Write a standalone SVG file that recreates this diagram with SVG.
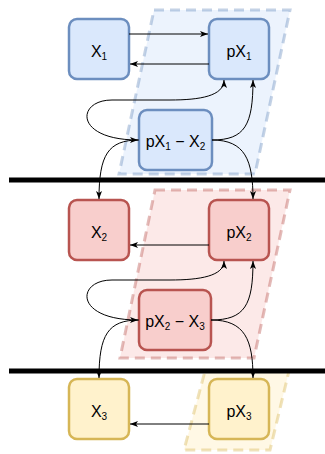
<svg xmlns="http://www.w3.org/2000/svg" width="325" height="454" viewBox="0 0 325 454">
<defs>
<style>
.lbl{font-family:"Liberation Sans",Arial,sans-serif;font-size:16px;fill:#000;text-anchor:middle}
.sub{font-size:10px}
.b rect{fill:#dae8fc;stroke:#6c8ebf;stroke-width:2.5}
.r rect{fill:#f8cecc;stroke:#b85450;stroke-width:2.5}
.y rect{fill:#fff2cc;stroke:#d6b656;stroke-width:2.5}
.par{stroke-width:3;stroke-dasharray:10 6}
.edge{fill:none;stroke:#000;stroke-width:1}
.bar{stroke:#000;stroke-width:5}
</style>
<marker id="ah" viewBox="0 0 8 6" refX="8" refY="3" markerWidth="8" markerHeight="6" markerUnits="userSpaceOnUse" orient="auto-start-reverse">
<path d="M0,0 L8,3 L0,6 L2,3 z" fill="#000"/>
</marker>
</defs>
<rect width="325" height="454" fill="#fff"/>
<g id="zones">
<polygon class="par" points="154,10 290,10 255,174 119,174" fill="#dae8fc" fill-opacity="0.5" stroke="#6c8ebf" stroke-opacity="0.4"/>
<polygon class="par" points="155,190 290,190 254,358 120,358" fill="#f8cecc" fill-opacity="0.45" stroke="#b85450" stroke-opacity="0.4"/>
<polygon class="par" points="205,371 289,371 270,450 184,450" fill="#fff2cc" fill-opacity="0.5" stroke="#d6b656" stroke-opacity="0.4"/>
</g>
<g id="bars">
<line class="bar" x1="9" y1="180" x2="325" y2="180"/>
<line class="bar" x1="9" y1="371" x2="325" y2="371"/>
</g>
<g id="X1" class="b"><rect x="69" y="19" width="60" height="60" rx="8"/><text class="lbl" x="99" y="57">X<tspan class="sub" dy="3">1</tspan></text></g>
<g id="pX1" class="b"><rect x="209" y="19" width="60" height="60" rx="8"/><text class="lbl" x="239" y="57">pX<tspan class="sub" dy="3">1</tspan></text></g>
<g id="pX1-X2" class="b"><rect x="139" y="110" width="73" height="60" rx="8"/><text class="lbl" x="175.5" y="147">pX<tspan class="sub" dy="3">1</tspan><tspan dy="-3"> − X</tspan><tspan class="sub" dy="3">2</tspan></text></g>
<g id="X2" class="r"><rect x="69" y="200" width="60" height="60" rx="8"/><text class="lbl" x="99" y="238">X<tspan class="sub" dy="3">2</tspan></text></g>
<g id="pX2" class="r"><rect x="209" y="200" width="60" height="60" rx="8"/><text class="lbl" x="239" y="238">pX<tspan class="sub" dy="3">2</tspan></text></g>
<g id="pX2-X3" class="r"><rect x="139" y="290" width="72" height="60" rx="8"/><text class="lbl" x="175" y="327">pX<tspan class="sub" dy="3">2</tspan><tspan dy="-3"> − X</tspan><tspan class="sub" dy="3">3</tspan></text></g>
<g id="X3" class="y"><rect x="69" y="379" width="60" height="60" rx="8"/><text class="lbl" x="99" y="417">X<tspan class="sub" dy="3">3</tspan></text></g>
<g id="pX3" class="y"><rect x="209" y="379" width="60" height="60" rx="8"/><text class="lbl" x="239" y="417">pX<tspan class="sub" dy="3">3</tspan></text></g>
<g id="connectors">
<path class="edge" d="M129 34 L208 34" marker-end="url(#ah)"/>
<path class="edge" d="M209 64 L130 64" marker-end="url(#ah)"/>
<path class="edge" d="M224 80 C224 96 200 100 170 100 L112 100 C76 100 74 140 138 140" marker-start="url(#ah)" marker-end="url(#ah)"/>
<path class="edge" d="M139 140 C108 140 99 155 99 199" marker-end="url(#ah)"/>
<path class="edge" d="M212 140 C245 140 253 125 253 80" marker-end="url(#ah)"/>
<path class="edge" d="M212 140 C245 140 253 160 253 199" marker-end="url(#ah)"/>
<path class="edge" d="M209 245 L130 245" marker-end="url(#ah)"/>
<path class="edge" d="M224 261 C224 276 200 280 170 280 L112 280 C76 280 74 320 138 320" marker-start="url(#ah)" marker-end="url(#ah)"/>
<path class="edge" d="M139 320 C108 320 99 335 99 378" marker-end="url(#ah)"/>
<path class="edge" d="M211 320 C245 320 253 305 253 261" marker-end="url(#ah)"/>
<path class="edge" d="M211 320 C245 320 253 340 253 378" marker-end="url(#ah)"/>
<path class="edge" d="M209 424 L130 424" marker-end="url(#ah)"/>
</g>
</svg>
